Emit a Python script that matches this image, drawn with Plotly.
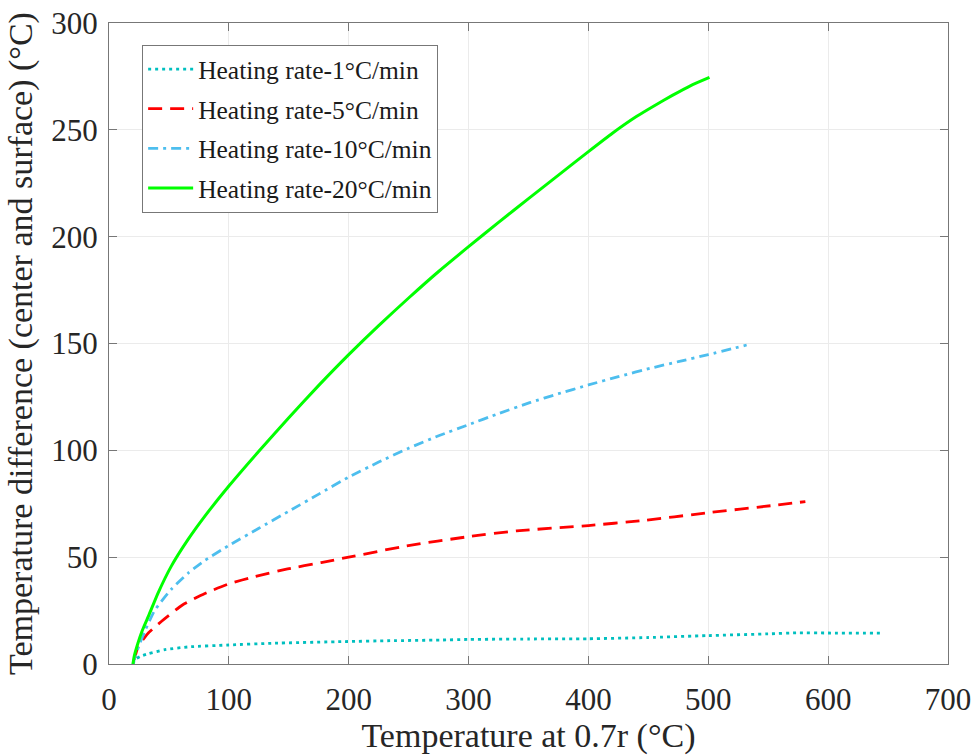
import plotly.graph_objects as go

# Heating rate 1 °C/min
x_1 = [20, 21.7, 26, 32.8, 46.7, 66.1, 100, 135.6, 196.7, 234.6, 276, 300, 350, 400, 450, 500, 550, 575, 600, 646.5]
y_1 = [0, 2, 3.5, 4.8, 6.7, 8.0, 8.9, 9.7, 10.5, 10.9, 11.2, 11.5, 11.7, 11.8, 12.4, 13.3, 14.1, 14.6, 14.5, 14.4]

# Heating rate 5 °C/min
x_5 = [21, 24.4, 32.8, 43.9, 61, 80, 100, 122, 149, 177, 200, 248.5, 300, 340, 400, 443, 500, 554, 581]
y_5 = [2, 8.3, 14.5, 20, 27.5, 33, 37.5, 41, 44.5, 47.5, 50, 55.3, 59.6, 62.3, 64.8, 67, 70.8, 74.2, 76]

# Heating rate 10 °C/min
x_10 = [20, 22, 26, 30, 38, 52, 66, 80, 100, 125, 150, 175, 200, 225, 250, 275, 300, 325, 351, 375, 400, 425, 453, 475, 500, 532]
y_10 = [0, 4, 10, 15.5, 25, 35, 42.5, 48.5, 55.5, 63.5, 71.5, 79.5, 87.5, 94.5, 101, 106.8, 112, 117.2, 122.3, 126.5, 130.6, 134.5, 138.6, 141.5, 144.8, 149.3]

# Heating rate 20 °C/min
x_20 = [20, 21, 24, 28, 33, 41, 52, 66, 80, 100, 125, 150, 175, 200, 225, 250, 275, 300, 325, 350, 375, 400, 420, 440, 455, 470, 485, 501]
y_20 = [0, 3.5, 9.5, 16, 22.5, 33.3, 45.8, 58.3, 69.2, 83.3, 99.6, 115.3, 130.4, 144.8, 158.4, 171.3, 183.7, 195.3, 206.7, 217.8, 228.8, 239.8, 248.4, 256.2, 261.3, 266.1, 270.6, 274.5]

names = ["Heating rate-1°C/min", "Heating rate-5°C/min",
         "Heating rate-10°C/min", "Heating rate-20°C/min"]

FONT = "Liberation Serif, Times New Roman, serif"

fig = go.Figure()
series = [
    (x_1, y_1, names[0], "#00BFBF", "3px,4px", 2.8),
    (x_5, y_5, names[1], "#FF0000", "14px,8px", 2.8),
    (x_10, y_10, names[2], "#4DBEEE", "10px,5px,3px,5px", 2.8),
    (x_20, y_20, names[3], "#00FF00", "solid", 3),
]
for i, (xs, ys, nm, col, dash, w) in enumerate(series):
    fig.add_trace(go.Scatter(
        x=xs, y=ys, mode="lines", name=nm, legendgroup=f"g{i}",
        line=dict(color=col, dash=dash, width=w, shape="spline", smoothing=0.5),
    ))

axis_common = dict(
    showline=True, linecolor="#777777", linewidth=1, mirror="ticks",
    ticks="inside", ticklen=8, tickcolor="#777777", tickwidth=1,
    showgrid=True, gridcolor="#ebebeb", gridwidth=1, zeroline=False,
    tickfont=dict(family=FONT, size=31, color="#262626"),
    automargin=False,
)

fig.update_xaxes(range=[0, 700], dtick=100, tick0=0,
                 title=dict(text="Temperature at 0.7r (°C)", standoff=4,
                            font=dict(family=FONT, size=34, color="#262626")),
                 ticklabelstandoff=8, **axis_common)
fig.update_yaxes(range=[0, 300], dtick=50, tick0=0,
                 title=dict(text="Temperature difference (center and surface) (°C)", standoff=8,
                            font=dict(family=FONT, size=34, color="#262626")),
                 ticklabelstandoff=4, **axis_common)

fig.update_layout(
    width=975, height=755,
    margin=dict(l=109, r=27, t=23, b=91, pad=0),
    paper_bgcolor="white", plot_bgcolor="white",
    font=dict(family=FONT, color="#262626"),
    legend=dict(
        x=0.0395, y=0.9657, xanchor="left", yanchor="top",
        bgcolor="white", bordercolor="#777777", borderwidth=1,
        font=dict(family=FONT, size=25.5, color="#1a1a1a"),
        traceorder="grouped", tracegroupgap=3.5,
        itemwidth=45, entrywidth=288, entrywidthmode="pixels",
    ),
    showlegend=True,
)

fig.write_html("out.html", config={"displayModeBar": False},
               post_script="document.body.style.margin='0';document.body.style.overflow='hidden';")
